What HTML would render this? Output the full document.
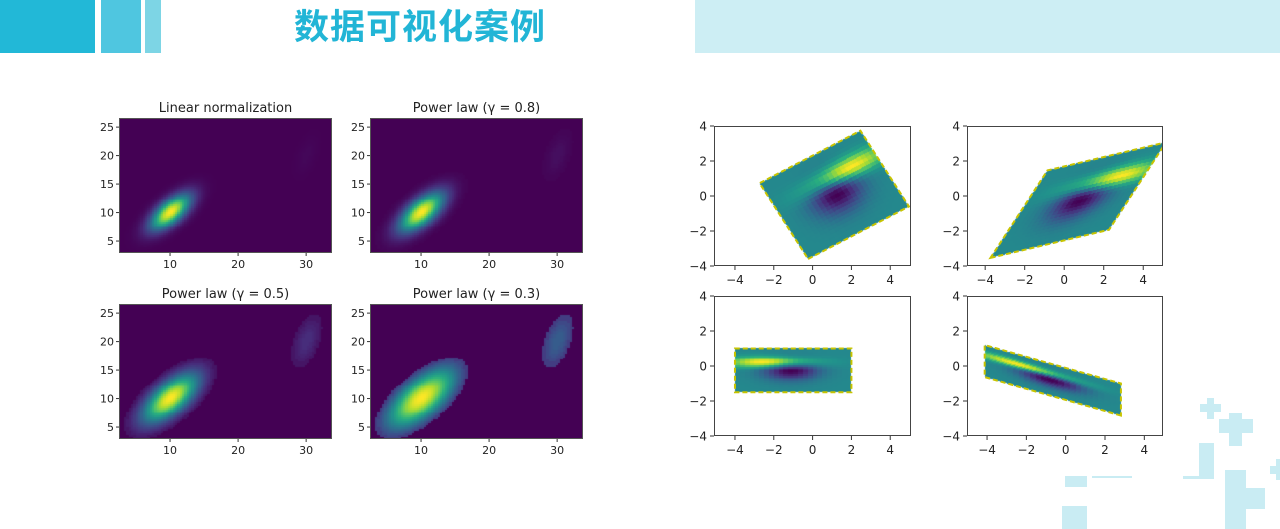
<!DOCTYPE html>
<html><head><meta charset="utf-8">
<style>
html,body{margin:0;padding:0;background:#fff;}
#root{position:relative;width:1280px;height:529px;overflow:hidden;font-family:"DejaVu Sans","Liberation Sans",sans-serif;}
canvas{position:absolute;}
svg{position:absolute;left:0;top:0;}
.hdr{position:absolute;}
</style></head>
<body>
<div id="root">
  <div class="hdr" style="left:0;top:0;width:95px;height:53px;background:#22b8d7"></div>
  <div class="hdr" style="left:101px;top:0;width:40px;height:53px;background:#4fc6e0"></div>
  <div class="hdr" style="left:145px;top:0;width:16px;height:53px;background:#7dd5e5"></div>
  <div class="hdr" style="left:695px;top:0;width:585px;height:53px;background:#cdeef4"></div>
  <div class="hdr" style="left:240px;top:4px;width:360px;text-align:center;font:bold 35px 'Liberation Sans','Noto Sans CJK SC',sans-serif;color:#22b5d6;line-height:48px;letter-spacing:1px">数据可视化案例</div>
  <div id="deco"></div>
  <div id="canvases"></div>
  <svg id="svg" width="1280" height="529"></svg>
</div>
<script>
// ---------- data ----------
const histTitles = ["Linear normalization","Power law (\u03b3 = 0.8)","Power law (\u03b3 = 0.5)","Power law (\u03b3 = 0.3)"];
const histGammas = [1.0, 0.8, 0.5, 0.3];
const blobCenters = [[10,10],[30,20]];
const blobSigmas = [[2.0,2.1],[1.2,2.5]];
const blobRho = [0.66, 0.5];
const blobPeaks = [320, 6];
const histXTicks = [10,20,30];
const histYTicks = [5,10,15,20,25];
const affineNames = ["rotate","skew","scale","combined"];
const affineMatrices = [[0.866,-0.5,0.5,0.866,0,0],[1,0.577,0.268,1,0,0],[-1,0,0,0.5,0,0],[-1.155,0,0.366,0.366,0.5,-1]];
const affineExtent = [-2,4,-3,2];
const gaussA = [0,0,1.0,1.0];   // mux, muy, sx, sy
const gaussB = [1,1,1.5,0.5];
const affTicks = [-4,-2,0,2,4];

// ---------- helpers ----------
const VIR=[[68,1,84],[71,45,123],[59,82,139],[44,114,142],[33,145,140],[40,174,128],[94,201,98],[173,220,48],[253,231,37]];
function vir(t){t=Math.max(0,Math.min(1,t));const p=t*8,i=Math.min(7,Math.floor(p)),f=p-i;const a=VIR[i],b=VIR[i+1];return [a[0]+(b[0]-a[0])*f,a[1]+(b[1]-a[1])*f,a[2]+(b[2]-a[2])*f];}
const svg=document.getElementById('svg');const NS='http://www.w3.org/2000/svg';
function el(tag,attrs,parent){const e=document.createElementNS(NS,tag);for(const k in attrs)e.setAttribute(k,attrs[k]);(parent||svg).appendChild(e);return e;}
function txt(x,y,s,size,anchor,name){const t=el('text',{x:x,y:y,'font-size':size,'text-anchor':anchor,fill:'#222','font-family':'"DejaVu Sans","Liberation Sans",sans-serif'});t.textContent=s;

return t;}
function mkCanvas(x,y,w,h,name){const c=document.createElement('canvas');c.width=w;c.height=h;c.style.left=x+'px';c.style.top=y+'px';


document.getElementById('canvases').appendChild(c);return c;}

// ---------- histograms ----------
const histBoxes=[[119,118,213,135],[370,118,213,135],[119,304,213,135],[370,304,213,135]];
const hxl=[2.5,33.8], hyl=[2.9,26.6];
const NBX=92, NBY=70;
function expected(x,y){let c=0;for(let k=0;k<blobCenters.length;k++){const dx=(x-blobCenters[k][0])/blobSigmas[k][0],dy=(y-blobCenters[k][1])/blobSigmas[k][1],r=blobRho[k];const q=(dx*dx-2*r*dx*dy+dy*dy)/(1-r*r);c+=blobPeaks[k]*Math.exp(-q/2);}return c;}
const counts=[];let cmax=0;
for(let j=0;j<NBY;j++){counts.push([]);for(let i=0;i<NBX;i++){const x=hxl[0]+(i+0.5)*(hxl[1]-hxl[0])/NBX,y=hyl[0]+(j+0.5)*(hyl[1]-hyl[0])/NBY;let c=Math.floor(expected(x,y));counts[j].push(c);if(c>cmax)cmax=c;}}
histBoxes.forEach((b,k)=>{
  const [X,Y,W,H]=b;const cv=mkCanvas(X,Y,W,H,'hist-image-'+(k+1));const ctx=cv.getContext('2d');const img=ctx.createImageData(W,H);
  for(let py=0;py<H;py++)for(let px=0;px<W;px++){const i=Math.floor(px/W*NBX),j=Math.floor((H-1-py)/H*NBY);const c=counts[j][i];const t=c<=0?0:Math.pow(c/cmax,histGammas[k]);const col=vir(t);const o=(py*W+px)*4;img.data[o]=col[0];img.data[o+1]=col[1];img.data[o+2]=col[2];img.data[o+3]=255;}
  ctx.putImageData(img,0,0);
  const g=el('g',{});
  
  el('rect',{x:X+0.5,y:Y+0.5,width:W-1,height:H-1,fill:'none',stroke:'#555','stroke-width':1},g);
  const sx=v=>X+(v-hxl[0])/(hxl[1]-hxl[0])*W, sy=v=>Y+H-(v-hyl[0])/(hyl[1]-hyl[0])*H;
  histXTicks.forEach(v=>{el('line',{x1:sx(v),x2:sx(v),y1:Y+H,y2:Y+H+3,stroke:'#333'},g);txt(sx(v),Y+H+15,String(v),11,'middle','x-tick-label');});
  histYTicks.forEach(v=>{el('line',{x1:X-3,x2:X,y1:sy(v),y2:sy(v),stroke:'#333'},g);txt(X-5,sy(v)+4,String(v),11,'end','y-tick-label');});
  txt(X+W/2,Y-6,histTitles[k],13,'middle','hist-title-'+(k+1));
});

// ---------- affine images ----------
const affBoxes=[[714,126,197,140],[967,126,196,140],[714,296,197,140],[967,296,196,140]];
const affX=[[-5.08,5.07],[-4.92,5.0],[-5.08,5.07],[-5.02,4.95]];
const affY=[-4,4];
const NG=24;
function bvn(X,Y,p){const dx=(X-p[0])/p[2],dy=(Y-p[1])/p[3];return Math.exp(-(dx*dx+dy*dy)/2)/(2*Math.PI*p[2]*p[3]);}
const Z=[];let zmin=1e9,zmax=-1e9;
for(let j=0;j<NG;j++){Z.push([]);for(let i=0;i<NG;i++){const X=-3+0.25*i,Y=-3+0.25*j;const z=bvn(X,Y,gaussB)-bvn(X,Y,gaussA);Z[j].push(z);zmin=Math.min(zmin,z);zmax=Math.max(zmax,z);}}
affBoxes.forEach((b,k)=>{
  const [X,Y,W,H]=b;const [a,bb,c,d,e,f]=affineMatrices[k];const det=a*d-bb*c;
  const xl=affX[k];
  const cv=mkCanvas(X,Y,W,H,'affine-image-'+affineNames[k]);const ctx=cv.getContext('2d');const img=ctx.createImageData(W,H);
  for(let py=0;py<H;py++)for(let px=0;px<W;px++){const x=xl[0]+(px+0.5)/W*(xl[1]-xl[0]),y=affY[1]-(py+0.5)/H*(affY[1]-affY[0]);const xx=x-e,yy=y-f;const u=(d*xx-bb*yy)/det,v=(-c*xx+a*yy)/det;const o=(py*W+px)*4;
    if(u<affineExtent[0]||u>affineExtent[1]||v<affineExtent[2]||v>affineExtent[3]){img.data[o]=255;img.data[o+1]=255;img.data[o+2]=255;img.data[o+3]=255;continue;}
    const i=Math.min(NG-1,Math.floor((u-affineExtent[0])/0.25)),j=Math.min(NG-1,Math.floor((v-affineExtent[2])/((affineExtent[3]-affineExtent[2])/NG)));
    const col=vir((Z[j][i]-zmin)/(zmax-zmin));img.data[o]=col[0];img.data[o+1]=col[1];img.data[o+2]=col[2];img.data[o+3]=255;}
  ctx.putImageData(img,0,0);
  const sx=v=>X+(v-xl[0])/(xl[1]-xl[0])*W, sy=v=>Y+H-(v-affY[0])/(affY[1]-affY[0])*H;
  const g=el('g',{});
  
  const cl=el('clipPath',{id:'clip'+k},g);el('rect',{x:X,y:Y,width:W,height:H},cl);
  const ex=affineExtent;const corners=[[ex[0],ex[2]],[ex[1],ex[2]],[ex[1],ex[3]],[ex[0],ex[3]]].map(p=>[sx(a*p[0]+bb*p[1]+e),sy(c*p[0]+d*p[1]+f)]);
  const pth=el('polygon',{points:corners.map(p=>p.join(',')).join(' '),fill:'none',stroke:'#c8c400','stroke-width':2,'stroke-dasharray':'5,3','clip-path':'url(#clip'+k+')'},g);
  
  
  el('rect',{x:X+0.5,y:Y+0.5,width:W-1,height:H-1,fill:'none',stroke:'#444','stroke-width':1},g);
  affTicks.forEach(v=>{el('line',{x1:sx(v),x2:sx(v),y1:Y+H,y2:Y+H+4,stroke:'#333'},g);txt(sx(v),Y+H+18,v<0?'\u2212'+(-v):String(v),12,'middle','x-tick-label');});
  affTicks.forEach(v=>{el('line',{x1:X-4,x2:X,y1:sy(v),y2:sy(v),stroke:'#333'},g);txt(X-7,sy(v)+4.5,v<0?'\u2212'+(-v):String(v),12,'end','y-tick-label');});
});

// ---------- decoration ----------
const decoRects=[[1200,404,21,8],[1207,398,7,21],[1219,419,34,14],[1229,413,13,33],[1199,443,15,36],[1183,476,30,3],[1092,476,40,2],[1065,476,22,11],[1062,506,25,23],[1225,470,21,59],[1246,488,19,21],[1270,466,10,8],[1276,459,4,21]];
const deco=document.getElementById('deco');
decoRects.forEach(r=>{const d=document.createElement('div');d.style.cssText='position:absolute;left:'+r[0]+'px;top:'+r[1]+'px;width:'+r[2]+'px;height:'+r[3]+'px;background:#c9ecf3';


deco.appendChild(d);});
</script>
</body></html>
